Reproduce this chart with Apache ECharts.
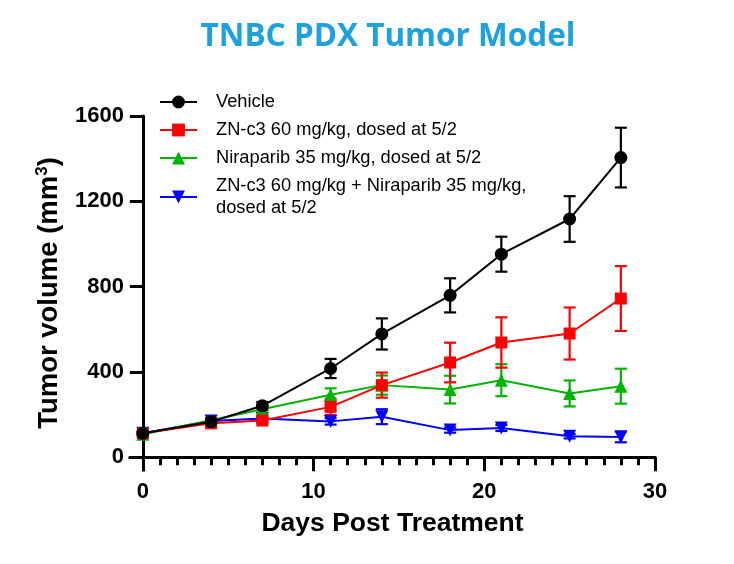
<!DOCTYPE html>
<html>
<head>
<meta charset="utf-8">
<script src="https://cdn.jsdelivr.net/npm/echarts@6/dist/echarts.min.js"></script>
<style>html,body{margin:0;padding:0;background:#fff;}#c{width:734px;height:564px;}</style>
</head>
<body>
<div id="c"></div>
<script>
const days = [0, 4, 7, 11, 14, 18, 21, 25, 28];
const seriesNames = [
  'Vehicle',
  'ZN-c3 60 mg/kg, dosed at 5/2',
  'Niraparib 35 mg/kg, dosed at 5/2',
  'ZN-c3 60 mg/kg + Niraparib 35 mg/kg,\ndosed at 5/2'
];
const vehicleMean = [112, 166, 241, 416, 578, 759, 952, 1117, 1405];
const vehicleSem  = [8, 12, 18, 45, 73, 80, 82, 107, 140];
const zncMean     = [112, 159, 172, 236, 338, 444, 538, 580, 744];
const zncSem      = [6, 10, 12, 38, 59, 93, 118, 122, 152];
const niraMean    = [108, 173, 225, 293, 338, 317, 361, 299, 333];
const niraSem     = [6, 10, 15, 30, 45, 65, 75, 61, 82];
const comboMean   = [112, 170, 181, 168, 190, 127, 137, 98, 95];
const comboSem    = [5, 8, 10, 15, 35, 12, 14, 10, 25];
const xMajorTicks = [0, 10, 20, 30];
const xMinorTicks = [1,2,3,4,5,6,7,8,9,11,12,13,14,15,16,17,18,19,21,22,23,24,25,26,27,28,29];
const yTicks = [0, 400, 800, 1200, 1600];

const colors = ['#000000', '#ff0000', '#00b400', '#0000ff'];
const symbols = ['circle', 'rect', 'triangle', 'triangle'];
const symbolSizes = [13, 12, 13, 13];
const rotates = [0, 0, 0, 180];
const means = [vehicleMean, zncMean, niraMean, comboMean];
const sems = [vehicleSem, zncSem, niraSem, comboSem];

const FONT = 'Liberation Sans, Arial, sans-serif';

function errSeries(k) {
  const col = colors[k];
  return {
    type: 'custom',
    name: seriesNames[k] + ' err',
    xAxisIndex: 0, yAxisIndex: 0,
    silent: true,
    encode: { x: 0, y: [1, 2] },
    data: days.map((d, i) => [d, means[k][i] - sems[k][i], means[k][i] + sems[k][i]]),
    renderItem: function (params, api) {
      const x = api.value(0);
      const lo = api.coord([x, api.value(1)]);
      const hi = api.coord([x, api.value(2)]);
      const w = 6;
      const st = { stroke: col, lineWidth: 2.2 };
      return {
        type: 'group',
        children: [
          { type: 'line', shape: { x1: hi[0], y1: hi[1], x2: lo[0], y2: lo[1] }, style: st },
          { type: 'line', shape: { x1: hi[0] - w, y1: hi[1], x2: hi[0] + w, y2: hi[1] }, style: st },
          { type: 'line', shape: { x1: lo[0] - w, y1: lo[1], x2: lo[0] + w, y2: lo[1] }, style: st }
        ]
      };
    }
  };
}

function lineSeries(k) {
  return {
    type: 'line',
    name: seriesNames[k],
    xAxisIndex: 0, yAxisIndex: 0,
    data: days.map((d, i) => [d, means[k][i]]),
    symbol: symbols[k],
    symbolSize: symbolSizes[k],
    symbolRotate: rotates[k],
    showAllSymbol: true,
    color: colors[k],
    itemStyle: { color: colors[k], opacity: 1 },
    lineStyle: { color: colors[k], width: 2 },
    emphasis: { disabled: true },
    animation: false
  };
}

const series = [];
[3, 2, 1, 0].forEach(k => { series.push(errSeries(k)); series.push(lineSeries(k)); });

const chart = echarts.init(document.getElementById('c'), null, { renderer: 'canvas' });
chart.setOption({
  animation: false,
  backgroundColor: '#ffffff',
  title: {
    text: 'TNBC PDX Tumor Model',
    left: 388,
    textAlign: 'center',
    top: 21,
    padding: 0,
    textStyle: { fontFamily: 'Open Sans', fontWeight: 'bold', fontSize: 31.5, color: '#1ea2df' }
  },
  legend: {
    data: seriesNames,
    orient: 'vertical',
    left: 159,
    top: 91,
    padding: 0,
    itemWidth: 37,
    itemHeight: 16,
    itemGap: 6,
    selectedMode: false,
    textStyle: { fontFamily: FONT, fontSize: 18.3, color: '#000', lineHeight: 22, padding: [0, 0, 0, 14] }
  },
  grid: { left: 130, top: 116, width: 525, height: 354 },
  xAxis: [{
    type: 'value',
    min: -0.75, max: 30,
    splitLine: { show: false },
    axisLine: { show: true, onZero: true, onZeroAxisIndex: 0, lineStyle: { color: '#000', width: 3 } },
    axisTick: { show: true, customValues: xMajorTicks, length: 14, lineStyle: { color: '#000', width: 3 } },
    axisLabel: { customValues: xMajorTicks, fontFamily: FONT, fontWeight: 'bold', fontSize: 22, color: '#000', margin: 11 },
    name: 'Days Post Treatment',
    nameLocation: 'middle',
    nameGap: 40,
    nameTextStyle: { fontFamily: FONT, fontWeight: 'bold', fontSize: 26.5, color: '#000' }
  }, {
    type: 'value',
    min: -0.75, max: 30,
    position: 'bottom',
    splitLine: { show: false },
    axisLine: { show: true, onZero: true, onZeroAxisIndex: 0, lineStyle: { color: '#000', width: 3 } },
    axisTick: { show: true, customValues: xMinorTicks, length: 8, lineStyle: { color: '#000', width: 3 } },
    axisLabel: { show: false }
  }],
  yAxis: {
    type: 'value',
    min: -60, max: 1600,
    splitLine: { show: false },
    axisLine: { show: true, onZero: true, onZeroAxisIndex: 0, lineStyle: { color: '#000', width: 3 } },
    axisTick: { show: true, customValues: yTicks, length: 13, lineStyle: { color: '#000', width: 3 } },
    axisLabel: { customValues: yTicks, formatter: v => String(v), fontFamily: FONT, fontWeight: 'bold', fontSize: 22, color: '#000', margin: 6 },
    name: 'Tumor volume (mm{sup|3})',
    nameLocation: 'middle',
    nameGap: 62,
    nameTextStyle: {
      fontFamily: FONT, fontWeight: 'bold', fontSize: 27.5, color: '#000', lineHeight: 30,
      rich: { sup: { fontFamily: FONT, fontWeight: 'bold', fontSize: 17, lineHeight: 30, verticalAlign: 'top', color: '#000', padding: [0, 0, 10, 0] } }
    }
  },
  series: series
});
</script>
</body>
</html>
